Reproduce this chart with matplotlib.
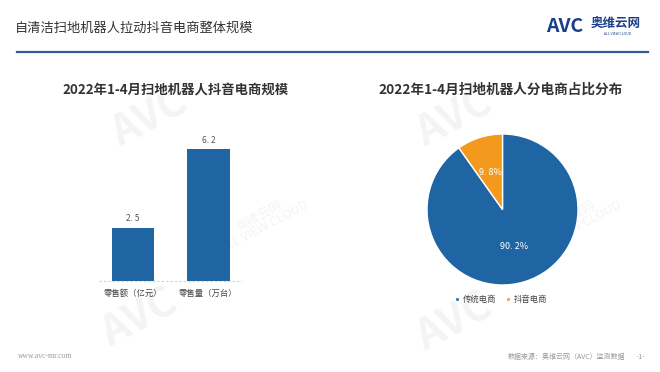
import matplotlib.pyplot as plt

plt.rcParams['font.family'] = ['Noto Sans CJK SC', 'DejaVu Sans']

# 数据
bar_labels = ["零售额（亿元）", "零售量（万台）"]
bar_values = [2.5, 6.2]
pie_labels = ["传统电商", "抖音电商"]
pie_values = [90.2, 9.8]

blue = "#1F65A3"
orange = "#F39A1E"
W, H = 660, 372

fig = plt.figure(figsize=(6.6, 3.72), dpi=100)
fig.patch.set_facecolor("white")


def fx(px):
    return px / W


def fy(py):
    return 1 - py / H


# 背景水印
for (x, y) in [(150, 118), (455, 118), (140, 318), (455, 322)]:
    fig.text(fx(x), fy(y), "AVC", fontsize=30, fontweight="bold", color="#f4f4f4",
             rotation=28, ha="center", va="center", zorder=-5)
for (x, y) in [(262, 222), (575, 222)]:
    fig.text(fx(x), fy(y), "奥维云网\nALL VIEW CLOUD", fontsize=9, color="#f4f4f4",
             rotation=28, ha="center", va="center", zorder=-5, linespacing=0.9)

# 标题与页眉
fig.text(fx(15), fy(28), "自清洁扫地机器人拉动抖音电商整体规模", fontsize=9.5,
         color="#333333", ha="left", va="center")
fig.add_artist(plt.Line2D([fx(17), fx(648)], [fy(52), fy(52)], color="#2F5D98", lw=1.6))
fig.text(fx(546), fy(26), "AVC", fontsize=14, fontweight="bold", style="italic",
         color="#1B3F8B", ha="left", va="center")
fig.text(fx(591), fy(23), "奥维云网", fontsize=9, fontweight="bold",
         color="#1B3F8B", ha="left", va="center")
fig.text(fx(604), fy(34), "ALL VIEW CLOUD", fontsize=2.5,
         color="#1B3F8B", ha="left", va="center")

# 副标题
fig.text(fx(176), fy(90), "2022年1-4月扫地机器人抖音电商规模", fontsize=9.6,
         fontweight="bold", color="#333333", ha="center", va="center")
fig.text(fx(501), fy(90), "2022年1-4月扫地机器人分电商占比分布", fontsize=9.8,
         fontweight="bold", color="#333333", ha="center", va="center")

# 柱状图
ppu = 75.5
left = 133 - 0.75 * ppu
ax = fig.add_axes([fx(left), 91 / H, 2.5 * ppu / W, 7 * 21.25 / H])
ax.set_xlim(-0.75, 1.75)
ax.set_ylim(0, 7)
xs = list(range(len(bar_values)))
bars = ax.bar(xs, bar_values, width=0.56, color=blue, zorder=2)
for b, v in zip(bars, bar_values):
    ax.text(b.get_x() + b.get_width() / 2, v + 0.22, f"{v}".replace(".", ". "),
            ha="center", va="bottom", fontsize=6, color="#555555")
ax.plot([-0.45, 1.45], [0, 0], color="#d0d0d0", lw=0.8, ls=(0, (2, 2)), clip_on=False)
ax.set_xticks(xs)
ax.set_xticklabels(bar_labels, fontsize=6, color="#444444")
ax.tick_params(length=0, pad=6)
ax.set_yticks([])
for sp in ax.spines.values():
    sp.set_visible(False)
ax.patch.set_alpha(0)

# 饼图
axp = fig.add_axes([fx(427), 87 / H, 151 / W, 151 / H])
wedges, texts, autotexts = axp.pie(
    pie_values, colors=[blue, orange], startangle=90, counterclock=False,
    autopct=lambda p: f"{p:.1f}%".replace(".", ". "), pctdistance=0.52,
    wedgeprops=dict(edgecolor="white", linewidth=1.0),
    textprops=dict(color="white", fontsize=6.5))
axp.set_xlim(-1, 1)
axp.set_ylim(-1, 1)
axp.set_aspect("equal")
axp.patch.set_alpha(0)

leg = fig.legend(wedges, pie_labels, loc="center", bbox_to_anchor=(fx(501), fy(299)),
                 ncol=2, frameon=False, fontsize=6, handlelength=0.5, handleheight=0.5,
                 handletextpad=0.4, columnspacing=1.2, labelcolor="#444444")
for h in leg.legend_handles:
    h.set_height(3)
    h.set_width(3)

# 页脚
fig.text(fx(18), fy(356), "www.avc-mr.com", fontsize=5.5, family="Liberation Serif",
         color="#999999", ha="left", va="center")
fig.text(fx(625), fy(357), "数据来源：奥维云网（AVC）监测数据", fontsize=5,
         color="#999999", ha="right", va="center")
fig.text(fx(645), fy(357), "-1-", fontsize=5, color="#999999", ha="right", va="center")

fig.savefig("out.png", dpi=100, facecolor="white")
